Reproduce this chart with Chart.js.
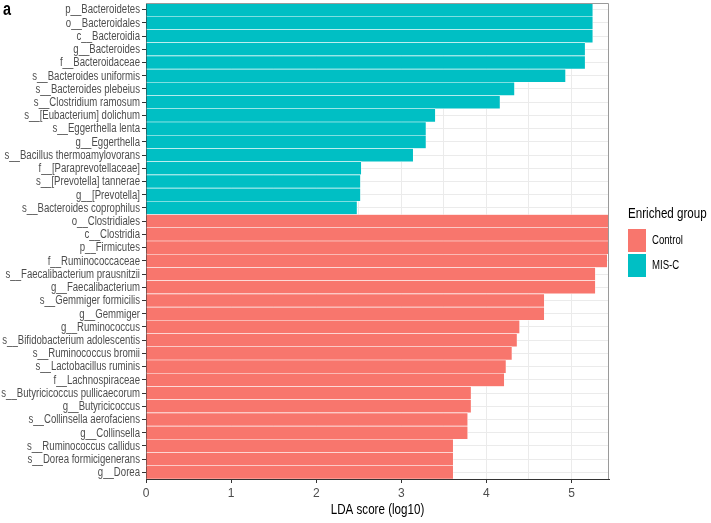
<!DOCTYPE html>
<html>
<head>
<meta charset="utf-8">
<script src="https://cdn.jsdelivr.net/npm/chart.js@4.4.1/dist/chart.umd.min.js"></script>
<style>
  html, body { margin: 0; padding: 0; background: #fff; }
  #wrap { width: 711px; height: 523px; }
</style>
</head>
<body>
<div id="wrap"><canvas id="ldaChart" width="711" height="523"></canvas></div>
<script>
// features, top to bottom
var features = [
    'p__Bacteroidetes', 'o__Bacteroidales', 'c__Bacteroidia', 'g__Bacteroides', 'f__Bacteroidaceae',
    's__Bacteroides uniformis', 's__Bacteroides plebeius', 's__Clostridium ramosum', 's__[Eubacterium] dolichum',
    's__Eggerthella lenta', 'g__Eggerthella', 's__Bacillus thermoamylovorans', 'f__[Paraprevotellaceae]',
    's__[Prevotella] tannerae', 'g__[Prevotella]', 's__Bacteroides coprophilus',
    'o__Clostridiales', 'c__Clostridia', 'p__Firmicutes', 'f__Ruminococcaceae', 's__Faecalibacterium prausnitzii',
    'g__Faecalibacterium', 's__Gemmiger formicilis', 'g__Gemmiger', 'g__Ruminococcus', 's__Bifidobacterium adolescentis',
    's__Ruminococcus bromii', 's__Lactobacillus ruminis', 'f__Lachnospiraceae', 's__Butyricicoccus pullicaecorum',
    'g__Butyricicoccus', 's__Collinsella aerofaciens', 'g__Collinsella', 's__Ruminococcus callidus',
    's__Dorea formicigenerans', 'g__Dorea'
];
var ldaScores = [
    5.25, 5.25, 5.25, 5.16, 5.16, 4.93, 4.33, 4.16, 3.40, 3.29, 3.29, 3.14, 2.53, 2.52, 2.52, 2.48,
    5.46, 5.45, 5.44, 5.42, 5.28, 5.28, 4.68, 4.68, 4.39, 4.36, 4.30, 4.23, 4.21, 3.82, 3.82, 3.78, 3.78,
    3.61, 3.61, 3.61
];
var groups = [
    'MIS-C', 'MIS-C', 'MIS-C', 'MIS-C', 'MIS-C', 'MIS-C', 'MIS-C', 'MIS-C', 'MIS-C', 'MIS-C', 'MIS-C',
    'MIS-C', 'MIS-C', 'MIS-C', 'MIS-C', 'MIS-C',
    'Control', 'Control', 'Control', 'Control', 'Control', 'Control', 'Control', 'Control', 'Control', 'Control',
    'Control', 'Control', 'Control', 'Control', 'Control', 'Control', 'Control', 'Control', 'Control', 'Control'
];
var groupNames = ['Control', 'MIS-C'];
var groupColors = { 'Control': '#F8766D', 'MIS-C': '#00BFC4' };
var xTicks = [0, 1, 2, 3, 4, 5];

var FONT = "'Liberation Sans', Arial, sans-serif";
var SX = 0.8; // the original text is horizontally squeezed

function seriesFor(g) {
    return ldaScores.map(function(v, i) { return groups[i] === g ? v : null; });
}

// squeezed text helper
function squeezedText(ctx, text, x, y, align) {
    ctx.save();
    ctx.scale(SX, 1);
    ctx.textAlign = align;
    ctx.fillText(text, x / SX, y);
    ctx.restore();
}

// y labels, x title, panel border, panel label, legend
var decorPlugin = {
    id: 'decor',
    afterDraw: function(chart) {
        var ctx = chart.ctx;
        var a = chart.chartArea;
        var yScale = chart.scales.y;
        ctx.save();
        ctx.strokeStyle = '#9a9a9a';
        ctx.lineWidth = 1;
        ctx.beginPath();
        ctx.moveTo(a.left, a.top + 0.5);
        ctx.lineTo(a.right - 0.5, a.top + 0.5);
        ctx.lineTo(a.right - 0.5, a.bottom);
        ctx.stroke();

        ctx.textBaseline = 'middle';
        ctx.fillStyle = '#4d4d4d';
        ctx.font = '12px ' + FONT;
        features.forEach(function(lbl, i) {
            squeezedText(ctx, lbl, a.left - 6, yScale.getPixelForTick(i) + 0.5, 'right');
        });

        ctx.fillStyle = '#000';
        ctx.font = '14.5px ' + FONT;
        squeezedText(ctx, 'LDA score (log10)', (a.left + a.right) / 2, 510, 'center');

        ctx.font = "bold 18px " + FONT;
        ctx.textBaseline = 'alphabetic';
        squeezedText(ctx, 'a', 3, 15, 'left');

        ctx.textBaseline = 'middle';
        ctx.font = '14.5px ' + FONT;
        squeezedText(ctx, 'Enriched group', 628, 214, 'left');
        ctx.font = '12px ' + FONT;
        groupNames.forEach(function(g, i) {
            var y = 229 + i * 25;
            ctx.fillStyle = groupColors[g];
            ctx.fillRect(628, y, 18, 23);
            ctx.fillStyle = '#000';
            squeezedText(ctx, g, 652, y + 12, 'left');
        });
        ctx.restore();
    }
};

var ctx = document.getElementById('ldaChart').getContext('2d');
var ldaChart = new Chart(ctx, {
    type: 'bar',
    data: {
        labels: features,
        datasets: groupNames.map(function(g) {
            return {
                label: g,
                data: seriesFor(g),
                backgroundColor: groupColors[g],
                borderColor: 'rgba(255,255,255,0.85)',
                borderWidth: 0.6,
                borderSkipped: 'start',
                categoryPercentage: 1,
                barPercentage: 1,
                grouped: false
            };
        })
    },
    options: {
        indexAxis: 'y',
        responsive: false,
        animation: false,
        layout: { padding: { top: 3, right: 102, left: 0, bottom: 0 } },
        plugins: { legend: { display: false }, tooltip: { enabled: false } },
        scales: {
            x: {
                type: 'linear',
                min: 0,
                max: 5.44,
                afterFit: function(s) { s.height = 44; },
                ticks: {
                    stepSize: 0.5,
                    includeBounds: false,
                    autoSkip: false,
                    maxRotation: 0,
                    padding: 3,
                    color: '#4d4d4d',
                    font: { family: FONT, size: 12 },
                    callback: function(v) { return xTicks.indexOf(v) >= 0 ? String(v) : ''; }
                },
                grid: {
                    color: '#ebebeb',
                    lineWidth: 1,
                    tickLength: 4,
                    tickColor: function(c) { return c.tick && xTicks.indexOf(c.tick.value) >= 0 ? '#333' : 'rgba(0,0,0,0)'; }
                },
                border: { color: '#333', width: 1 }
            },
            y: {
                afterFit: function(s) { s.width = 146; },
                ticks: { display: false, autoSkip: false },
                grid: {
                    offset: false,
                    color: '#ebebeb',
                    lineWidth: 1,
                    tickLength: 4,
                    tickColor: '#333'
                },
                border: { color: '#333', width: 1 }
            }
        }
    },
    plugins: [decorPlugin]
});
</script>
</body>
</html>
